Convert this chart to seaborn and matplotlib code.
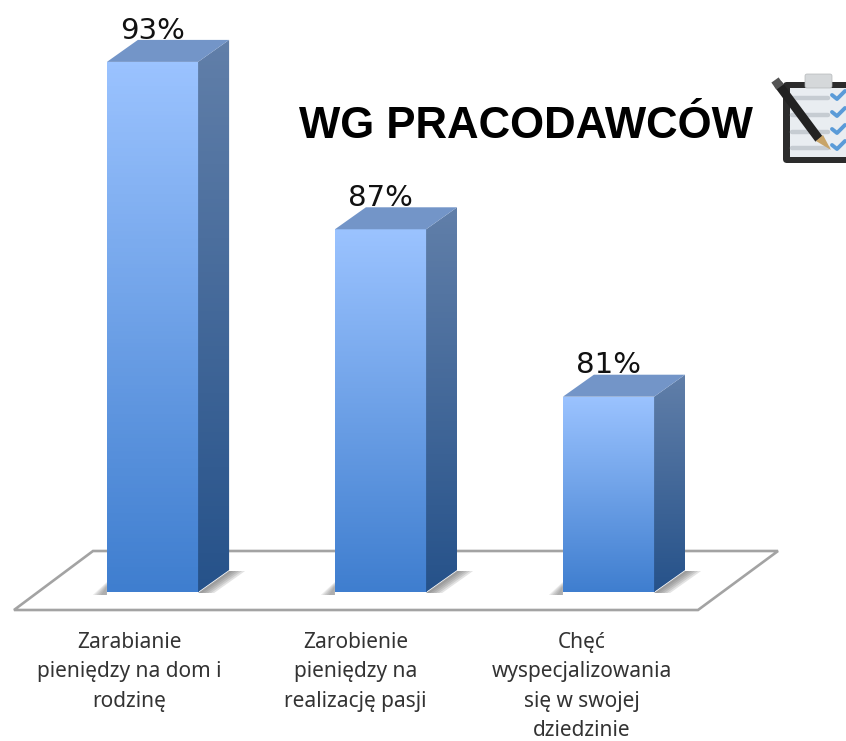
import numpy as np
import matplotlib
matplotlib.use('Agg')
import matplotlib.pyplot as plt
from matplotlib.patches import Polygon, Rectangle, FancyBboxPatch
import seaborn as sns

# values
categories = ['Zarabianie\npieniędzy na dom i\nrodzinę',
              'Zarobienie\npieniędzy na\nrealizację pasji',
              'Chęć\nwyspecjalizowania\nsię w swojej\ndziedzinie']
values = [93, 87, 81]
value_labels = ['93%', '87%', '81%']
title = 'WG PRACODAWCÓW'

W, H = 846, 741
sns.set_theme(style='white')
plt.rcParams['font.family'] = ['DejaVu Sans']

fig = plt.figure(figsize=(W / 100, H / 100), dpi=100, facecolor='white')

# overlay in pixel coordinates for floor, title and icon
deco = fig.add_axes([0, 0, 1, 1], zorder=0)
deco.set_xlim(0, W)
deco.set_ylim(H, 0)
deco.axis('off')

# bar axes: bottom edge sits on the floor front of the bars
PX_Y = 27.9  # pixels per percent
PX_X = 228   # pixels per category
BASE_PX = 592
ax = fig.add_axes([0, 1 - BASE_PX / H, 1, BASE_PX / H], zorder=1)
ax.patch.set_alpha(0)
df = dict(cat=categories, val=values)
sns.barplot(data=df, x='cat', y='val', width=0.4, color='#6c9fe6', ax=ax)
ax.set_xlim(-152.5 / PX_X, (W - 152.5) / PX_X)
ax.set_ylim(74, 74 + BASE_PX / PX_Y)
ax.axis('off')

dx = 31 / PX_X
dy = 22 / PX_Y


def vgrad(axis, c1, c2, extent, clip, n=128):
    cmap = matplotlib.colors.LinearSegmentedColormap.from_list('g', [c1, c2])
    im = axis.imshow(np.linspace(0, 1, n)[:, None], cmap=cmap, extent=extent,
                     aspect='auto', origin='upper', zorder=3)
    im.set_clip_path(clip)


# floor
deco.add_patch(Polygon([(14, 610), (93, 551), (778, 551), (698, 610)], closed=True,
                       fill=False, edgecolor='#a3a3a3', lw=1.9))

for i_bar, (bar, lab, cat) in enumerate(zip(ax.patches, value_labels, categories)):
    x0 = bar.get_x()
    x1 = x0 + bar.get_width()
    top = bar.get_height()
    y0 = ax.get_ylim()[0]
    bar.set_visible(False)

    # soft shadow on the floor, a few see-through layers
    px0 = x0 * PX_X + 152.5
    px1 = x1 * PX_X + 152.5
    for k in range(5):
        deco.add_patch(Polygon([(px0 - 14 + 2 * k, BASE_PX + 3), (px0, BASE_PX - 10 + k),
                                (px0, BASE_PX + 3)], color='#777777', alpha=0.16, lw=0, zorder=2))
        deco.add_patch(Polygon([(px1, BASE_PX + 1), (px1 + 31, BASE_PX - 21),
                                (px1 + 47 - 3 * k, BASE_PX - 21), (px1 + 16 - 3 * k, BASE_PX + 1)],
                               color='#666666', alpha=0.18, lw=0, zorder=2))

    front = Rectangle((x0, y0), x1 - x0, top - y0, transform=ax.transData)
    side = Polygon([(x1, y0), (x1 + dx, y0 + dy), (x1 + dx, top + dy), (x1, top)],
                   closed=True, transform=ax.transData)
    vgrad(ax, '#9bc3ff', '#3f7ecf', (x0, x1, y0, top), front)
    vgrad(ax, '#617fa9', '#26528a', (x1, x1 + dx, y0, top + dy), side)
    ax.add_patch(Polygon([(x0, top), (x1, top), (x1 + dx, top + dy), (x0 + dx, top + dy)],
                         closed=True, facecolor='#7395c8', edgecolor='none', zorder=3))
    ax.text((x0 + x1) / 2, top + 0.62, lab, ha='center', va='bottom',
            fontsize=21, color='#111111', zorder=5, clip_on=False)

    # category label under the floor, not centred on the bar in the original
    cx = (x0 + x1) / 2
    for i, line in enumerate(cat.split('\n')):
        ax.text(cx - (23.5 + 1.5 * i_bar) / PX_X, 74 - (50.5 + 29.5 * i) / PX_Y, line,
                ha='center', va='center', fontsize=15, color='#333333',
                family='Noto Sans', clip_on=False)

deco.text(526, 126, title, ha='center', va='center', fontsize=31.5, fontweight='bold',
          color='black', family='Liberation Sans')

# clipboard icon
deco.add_patch(FancyBboxPatch((783, 82), 70, 81, boxstyle='round,pad=0,rounding_size=4',
                              fc='#2c2c2c', ec='none', zorder=3))
deco.add_patch(Rectangle((790, 88), 60, 69, fc='#e9edf1', ec='none', zorder=3))
deco.add_patch(FancyBboxPatch((805, 74), 27, 14, boxstyle='round,pad=0,rounding_size=2',
                              fc='#d5d8da', ec='#b5b8ba', lw=0.5, zorder=4))
for yy in (98, 115, 132, 148):
    deco.plot([792, 828], [yy, yy], color='#c6ccd2', lw=3.2, zorder=4)
    deco.plot([832, 837, 845], [yy - 3, yy + 1, yy - 7], color='#5a9bd8', lw=2.8, zorder=4)
deco.plot([778, 819], [84, 139], color='#222222', lw=6.4, solid_capstyle='butt', zorder=5)
deco.plot([775, 780], [80, 87], color='#555555', lw=6.4, solid_capstyle='butt', zorder=5)
deco.add_patch(Polygon([(816, 141), (823, 135), (831, 150)], fc='#c8a468', ec='none', zorder=5))

fig.savefig('out.png', dpi=100)
